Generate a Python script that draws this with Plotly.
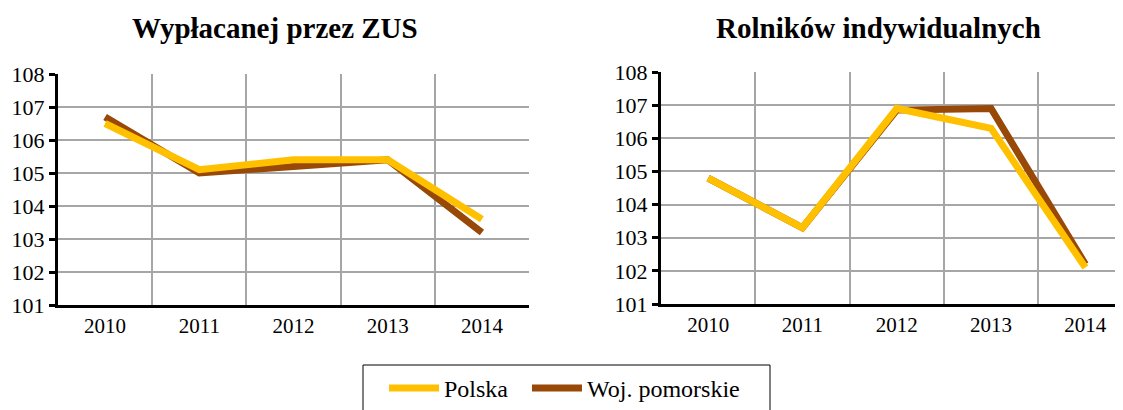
import plotly.graph_objects as go

years = ["2010", "2011", "2012", "2013", "2014"]
zus_polska = [106.5, 105.1, 105.4, 105.4, 103.6]
zus_pomorskie = [106.7, 105.0, 105.2, 105.4, 103.2]
rol_polska = [104.8, 103.3, 106.9, 106.3, 102.1]
rol_pomorskie = [104.8, 103.3, 106.85, 106.9, 102.2]
titles = ["Wypłacanej przez ZUS", "Rolników indywidualnych"]
series_names = ["Polska", "Woj. pomorskie"]
colors = {"Polska": "#FFC000", "Woj. pomorskie": "#984807"}

FONT = "Liberation Serif"
W, H = 1123, 410
OFF = 8  # page body margin offset


def px(x):
    return (x - OFF) / W


def py(y):
    return 1 - (y - OFF) / H


fig = go.Figure()
for i, (pl, pm) in enumerate([(zus_polska, zus_pomorskie), (rol_polska, rol_pomorskie)]):
    xa = "x" if i == 0 else "x2"
    ya = "y" if i == 0 else "y2"
    fig.add_trace(go.Scatter(x=years, y=pm, mode="lines", name=series_names[1],
                             line=dict(color=colors[series_names[1]], width=7),
                             xaxis=xa, yaxis=ya, showlegend=(i == 0), legend="legend2"))
    fig.add_trace(go.Scatter(x=years, y=pl, mode="lines", name=series_names[0],
                             line=dict(color=colors[series_names[0]], width=7),
                             xaxis=xa, yaxis=ya, showlegend=(i == 0), legend="legend"))

grid = "#A6A6A6"
xcommon = dict(type="category", tickson="boundaries", showgrid=True, gridcolor=grid,
               gridwidth=2, ticks="", showline=True, linecolor="black", linewidth=3,
               zeroline=False, automargin=False,
               tickfont=dict(family=FONT, size=21, color="black"))
ycommon = dict(range=[101, 108], dtick=1, showgrid=True, gridcolor=grid, gridwidth=2,
               ticks="outside", ticklen=6, tickwidth=3, tickcolor="black",
               showline=True, linecolor="black", linewidth=3, zeroline=False,
               automargin=False,
               tickfont=dict(family=FONT, size=22, color="black"))

legend_common = dict(orientation="h", xanchor="left", y=py(366), yanchor="top",
                     borderwidth=0, bgcolor="rgba(0,0,0,0)", itemwidth=50,
                     font=dict(family=FONT, size=24, color="black"))

right_start = 661
spacing = 94.3
fig.update_layout(
    template="none",
    width=W, height=H, margin=dict(l=0, r=0, t=0, b=0),
    paper_bgcolor="white", plot_bgcolor="white",
    showlegend=True,
    xaxis=dict(domain=[px(58), px(529)], range=[-0.5, 4.5], anchor="y", **xcommon),
    yaxis=dict(domain=[py(305), py(74)], anchor="x", **ycommon),
    xaxis2=dict(domain=[px(right_start), 1.0],
                range=[-0.5, -0.5 + (W + OFF - right_start) / spacing], anchor="y2", **xcommon),
    yaxis2=dict(domain=[py(304), py(72)], anchor="x2", **ycommon),
    legend=dict(x=px(384), **legend_common),
    legend2=dict(x=px(527), **legend_common),
    shapes=[dict(type="rect", xref="paper", yref="paper",
                 x0=px(363), x1=px(770), y0=py(420), y1=py(365),
                 line=dict(color="black", width=1), fillcolor="rgba(0,0,0,0)")],
    annotations=[
        dict(text="<b>" + titles[0] + "</b>", x=px(275), y=py(28), xref="paper", yref="paper",
             showarrow=False, xanchor="center", yanchor="middle",
             font=dict(family=FONT, size=29, color="black")),
        dict(text="<b>" + titles[1] + "</b>", x=px(878), y=py(28), xref="paper", yref="paper",
             showarrow=False, xanchor="center", yanchor="middle",
             font=dict(family=FONT, size=29, color="black")),
    ],
)

fig.write_html("out.html")
